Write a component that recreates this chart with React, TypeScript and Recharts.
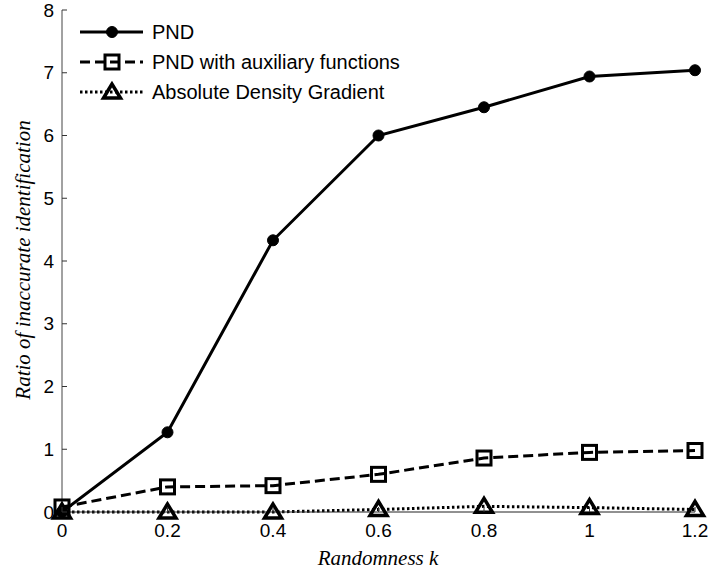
import { LineChart, Line, XAxis, YAxis, Legend, Label } from 'recharts'

const K_VALUES = [0, 0.2, 0.4, 0.6, 0.8, 1, 1.2]
const PND = [0, 1.27, 4.33, 6.0, 6.45, 6.94, 7.04]
const PND_AUX = [0.08, 0.4, 0.42, 0.6, 0.86, 0.95, 0.98]
const ADG = [0.0, 0.0, 0.0, 0.04, 0.09, 0.07, 0.04]
const Y_TICKS = [0, 1, 2, 3, 4, 5, 6, 7, 8]

const SERIES = [
  { key: 'pnd', name: 'PND', dash: undefined as string | undefined, marker: 'circle' },
  { key: 'aux', name: 'PND with auxiliary functions', dash: '10 5', marker: 'square' },
  { key: 'adg', name: 'Absolute Density Gradient', dash: '2.5 2.5', marker: 'triangle' },
]

const data = K_VALUES.map((k, i) => ({ k, pnd: PND[i], aux: PND_AUX[i], adg: ADG[i] }))

const SANS = '"Liberation Sans", Arial, sans-serif'
const SERIF = '"Liberation Serif", "Times New Roman", serif'

function Marker({ kind, cx, cy }: { kind: string; cx: number; cy: number }) {
  if (kind === 'circle') return <circle cx={cx} cy={cy} r={5.5} fill="#000" stroke="#000" />
  if (kind === 'square')
    return <rect x={cx - 7} y={cy - 7} width={14} height={14} fill="none" stroke="#000" strokeWidth={3} />
  return (
    <polygon
      points={`${cx},${cy - 8} ${cx - 8.5},${cy + 6} ${cx + 8.5},${cy + 6}`}
      fill="none"
      stroke="#000"
      strokeWidth={3.5}
      strokeLinejoin="miter"
    />
  )
}

function makeDot(kind: string) {
  return (props: any) => {
    const { cx, cy, index } = props
    if (cx == null || cy == null) return <g key={index} />
    return <Marker key={index} kind={kind} cx={cx} cy={cy} />
  }
}

function YTick({ x, y, payload }: any) {
  return (
    <g>
      <line x1={x} x2={x + 5} y1={y} y2={y} stroke="#333" />
      <text x={x - 8} y={y} textAnchor="end" dominantBaseline="central" fontSize={19} fontFamily={SANS} fill="#000">
        {payload.value}
      </text>
    </g>
  )
}

function XTick({ x, y, payload }: any) {
  return (
    <g>
      <line x1={x} x2={x} y1={y} y2={y - 5} stroke="#333" />
      <text x={x} y={y + 12} dy="0.71em" textAnchor="middle" fontSize={19} fontFamily={SANS} fill="#000">
        {String(payload.value)}
      </text>
    </g>
  )
}

function LegendBox() {
  return (
    <div style={{ fontFamily: SANS, fontSize: 20, color: '#000' }}>
      {SERIES.map((s) => (
        <div key={s.key} style={{ display: 'flex', alignItems: 'center', height: 30 }}>
          <svg width={72} height={24} style={{ display: 'block' }}>
            <line x1={0} x2={63} y1={12} y2={12} stroke="#000" strokeWidth={3} strokeDasharray={s.dash} />
            <Marker kind={s.marker} cx={32} cy={12} />
          </svg>
          <span>{s.name}</span>
        </div>
      ))}
    </div>
  )
}

export default function App() {
  return (
    <div style={{ position: 'absolute', left: 0, top: 0, background: '#fff' }}>
      <LineChart width={713} height={574} data={data} margin={{ top: 10, right: 18, left: 0, bottom: 0 }}>
        <XAxis
          dataKey="k"
          type="number"
          domain={[0, 1.2]}
          ticks={K_VALUES}
          height={62}
          tickSize={0}
          tickMargin={0}
          tickLine={false}
          tick={<XTick />}
          stroke="#222"
          interval={0}
        >
          <Label
            content={() => (
              <text x={378} y={558} textAnchor="middle" dominantBaseline="central" fontSize={21} fontStyle="italic" fontFamily={SERIF} fill="#000">
                Randomness k
              </text>
            )}
          />
        </XAxis>
        <YAxis
          type="number"
          domain={[0, 8]}
          ticks={Y_TICKS}
          width={62}
          tickSize={0}
          tickMargin={0}
          tickLine={false}
          tick={<YTick />}
          stroke="#444"
          interval={0}
        >
          <Label
            content={() => (
              <text
                x={23}
                y={260}
                transform="rotate(-90 23 260)"
                textAnchor="middle"
                dominantBaseline="central"
                fontSize={21}
                fontStyle="italic"
                fontFamily={SERIF}
                fill="#000"
              >
                Ratio of inaccurate identification
              </text>
            )}
          />
        </YAxis>
        <Legend
          layout="vertical"
          align="center"
          verticalAlign="middle"
          wrapperStyle={{ left: 80, top: 17, width: 'auto' }}
          content={() => <LegendBox />}
        />
        {SERIES.map((s) => (
          <Line
            key={s.key}
            dataKey={s.key}
            name={s.name}
            type="linear"
            stroke="#000"
            strokeWidth={3}
            strokeDasharray={s.dash}
            dot={makeDot(s.marker)}
            activeDot={false}
            isAnimationActive={false}
          />
        ))}
      </LineChart>
    </div>
  )
}
